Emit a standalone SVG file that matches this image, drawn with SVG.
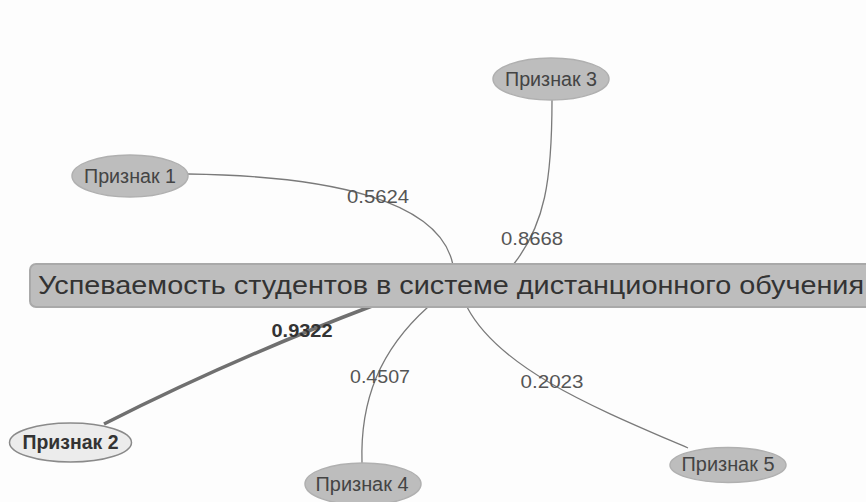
<svg xmlns="http://www.w3.org/2000/svg" width="866" height="502" viewBox="0 0 866 502">
<style>
.bg{fill:#fdfdfd}
.node ellipse{fill:#bdbdbd;stroke:#b0b0b0;stroke-width:1.5}
.node text{font-family:"Liberation Sans",Arial,sans-serif;font-size:20px;fill:#444;text-anchor:middle}
#n2 ellipse{fill:#ececec;stroke:#8a8a8a;stroke-width:1.5}
#n2 text{font-weight:bold;fill:#333}
#center rect{fill:#bdbdbd;stroke:#a9a9a9;stroke-width:2}
#center text{font-family:"Liberation Sans",Arial,sans-serif;font-size:26.5px;fill:#333}
.edge{fill:none;stroke:#7a7a7a;stroke-width:1.3}
.edge.strong{stroke:#707070;stroke-width:3.5}
.lbl{font-family:"Liberation Sans",Arial,sans-serif;font-size:18.5px;fill:#555;text-anchor:middle}
.lbl.strong{font-weight:bold;fill:#333}
</style>
<rect class="bg" x="0" y="0" width="866" height="502"/>
<g id="connectors">
  <path class="edge" d="M188,174 C330,176 440,200 453,265"/>
  <path class="edge" d="M552,100 C552,180 545,225 513,265"/>
  <path class="edge strong" d="M104,424 Q230,360 372,306"/>
  <path class="edge" d="M362,463 C360,400 380,350 428,307"/>
  <path class="edge" d="M467,307 C500,370 600,410 688,448"/>
  <text class="lbl" x="378" y="203" textLength="62" lengthAdjust="spacingAndGlyphs">0.5624</text>
  <text class="lbl" x="532" y="245" textLength="62" lengthAdjust="spacingAndGlyphs">0.8668</text>
  <text class="lbl strong" x="302" y="337" textLength="61" lengthAdjust="spacingAndGlyphs">0.9322</text>
  <text class="lbl" x="380" y="383" textLength="60" lengthAdjust="spacingAndGlyphs">0.4507</text>
  <text class="lbl" x="552" y="388" textLength="63" lengthAdjust="spacingAndGlyphs">0.2023</text>
</g>
<g id="center">
  <rect x="30" y="264" width="850" height="43" rx="6" ry="6"/>
  <text x="38" y="294" textLength="826" lengthAdjust="spacingAndGlyphs">Успеваемость студентов в системе дистанционного обучения</text>
</g>
<g id="n1" class="node">
  <ellipse cx="130" cy="176" rx="58" ry="21"/>
  <text x="130" y="183" textLength="92" lengthAdjust="spacingAndGlyphs">Признак 1</text>
</g>
<g id="n2" class="node">
  <ellipse cx="70.5" cy="442.5" rx="61" ry="19.5"/>
  <text x="70.5" y="449" textLength="96" lengthAdjust="spacingAndGlyphs">Признак 2</text>
</g>
<g id="n3" class="node">
  <ellipse cx="551" cy="79" rx="58" ry="21"/>
  <text x="551" y="86" textLength="92" lengthAdjust="spacingAndGlyphs">Признак 3</text>
</g>
<g id="n4" class="node">
  <ellipse cx="363" cy="484" rx="58" ry="21"/>
  <text x="362" y="491" textLength="93" lengthAdjust="spacingAndGlyphs">Признак 4</text>
</g>
<g id="n5" class="node">
  <ellipse cx="728" cy="465" rx="58" ry="17.5"/>
  <text x="728" y="471" textLength="93" lengthAdjust="spacingAndGlyphs">Признак 5</text>
</g>
</svg>
